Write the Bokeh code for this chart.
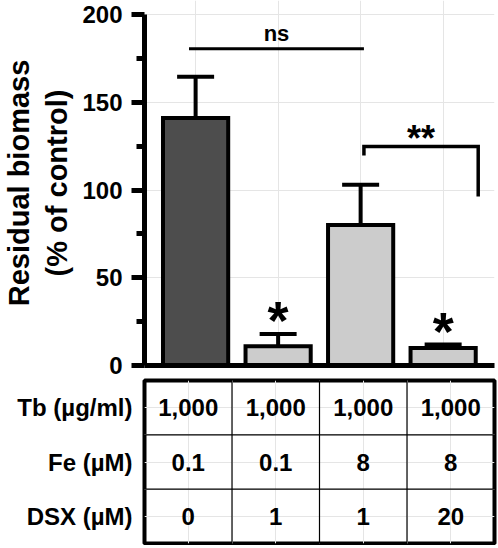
from bokeh.plotting import figure
from bokeh.models import Range1d, FixedTicker, LinearAxis, Whisker, TeeHead, ColumnDataSource
from bokeh.layouts import column
from bokeh.core.properties import value
from bokeh.embed import file_html
from bokeh.resources import INLINE

# ---------------- data ----------------
bar_positions = [0, 1, 2, 3]
biomass_pct = [141, 11, 80, 10]
biomass_upper = [164.5, 18, 103, 12]
bar_colors = ["#4d4d4d", "#cccccc", "#cccccc", "#cccccc"]
y_major_ticks = [0, 50, 100, 150, 200]
y_minor_ticks = [25, 75, 125, 175]
y_label = "Residual biomass\n(% of control)"

star_positions = [1, 3]
star_centers = [32.8, 26.2]
star_text = ["*", "*"]

ns_text = "ns"
ns_from_to = [-0.08, 2.04]
ns_level = 180.5
ns_text_level = 189.0

pair_text = "**"
pair_from_to = [2.04, 3.425]
pair_level = 124.8
pair_leg_ends = [119.7, 96.3]
pair_text_center = 134.0

row_names = ["Tb (µg/ml)", "Fe (µM)", "DSX (µM)"]
tb_row = ["1,000", "1,000", "1,000", "1,000"]
fe_row = ["0.1", "0.1", "8", "8"]
dsx_row = ["0", "1", "1", "20"]

# ---------------- style ----------------
FONT = "Liberation Sans"
PX_PER_UNIT = 1.755          # vertical pixels per % unit in the chart frame
STAR_RISE = 0.22             # asterisk centre above the text box middle, in em

# ---------------- chart ----------------
p = figure(width=498, height=378,
           x_range=Range1d(-0.6195, 3.6225), y_range=Range1d(0, 208.0),
           x_axis_location=None, y_axis_location=None,
           output_backend="svg", toolbar_location=None,
           min_border_left=140, min_border_right=4, min_border_top=0, min_border_bottom=13,
           outline_line_color=None, background_fill_color="white", border_fill_color="white")

yax = LinearAxis(bounds=(0, 200),
                 ticker=FixedTicker(ticks=y_major_ticks, minor_ticks=y_minor_ticks))
yax.axis_label = y_label
yax.axis_label_text_font = FONT
yax.axis_label_text_font_style = "bold"
yax.axis_label_text_font_size = "29px"
yax.axis_label_text_color = "black"
yax.axis_label_standoff = 6
yax.major_label_text_font = FONT
yax.major_label_text_font_style = "bold"
yax.major_label_text_font_size = "24px"
yax.major_label_text_color = "black"
yax.major_label_standoff = 9
yax.axis_line_width = 5
yax.axis_line_color = "black"
yax.major_tick_line_width = 5
yax.minor_tick_line_width = 5
yax.major_tick_line_color = "black"
yax.minor_tick_line_color = "black"
yax.major_tick_out = 13
yax.major_tick_in = 0
yax.minor_tick_out = 8
yax.minor_tick_in = 0
p.add_layout(yax, "left")

xax = LinearAxis(ticker=FixedTicker(ticks=[]), major_label_text_font_size="0px",
                 major_tick_out=0, major_tick_in=0, minor_tick_out=0, minor_tick_in=0,
                 axis_line_width=5, axis_line_color="black")
p.add_layout(xax, "below")

src = ColumnDataSource(dict(x=bar_positions, top=biomass_pct, upper=biomass_upper, color=bar_colors))

whisk = Whisker(source=src, base="x", lower="top", upper="upper",
                line_width=4, line_color="black",
                upper_head=TeeHead(size=37, line_width=4, line_color="black"),
                lower_head=None)
p.add_layout(whisk)

p.vbar(x="x", top="top", bottom=0, width=0.79, fill_color="color",
       line_color="black", line_width=4, line_join="miter", source=src)

# significance marks
STAR_SIZE = 54
star_anchor = [h - STAR_RISE * STAR_SIZE / PX_PER_UNIT for h in star_centers]
p.text(x=star_positions, y=star_anchor, text=star_text,
       text_font=value(FONT), text_font_style="bold", text_font_size=f"{STAR_SIZE}px",
       text_align="center", text_baseline="middle", text_color="black")

p.segment(x0=[ns_from_to[0]], y0=[ns_level], x1=[ns_from_to[1]], y1=[ns_level],
          line_width=3, line_color="black")
p.text(x=[sum(ns_from_to) / 2], y=[ns_text_level], text=[ns_text],
       text_font=value(FONT), text_font_style="bold", text_font_size="22px",
       text_align="center", text_baseline="middle", text_color="black")

p.line(x=[pair_from_to[0], pair_from_to[0], pair_from_to[1], pair_from_to[1]],
       y=[pair_leg_ends[0], pair_level, pair_level, pair_leg_ends[1]],
       line_width=3.5, line_color="black", line_join="miter")
PAIR_SIZE = 36
p.text(x=[sum(pair_from_to) / 2], y=[pair_text_center - STAR_RISE * PAIR_SIZE / PX_PER_UNIT],
       text=[pair_text],
       text_font=value(FONT), text_font_style="bold", text_font_size=f"{PAIR_SIZE}px",
       text_align="center", text_baseline="middle", text_color="black")

# ---------------- table ----------------
n_cols = len(tb_row)
n_rows = len(row_names)
t = figure(width=498, height=167,
           x_range=Range1d(0, n_cols), y_range=Range1d(0, 2 * n_rows),
           x_axis_location=None, y_axis_location=None,
           output_backend="svg", toolbar_location=None,
           min_border_left=137, min_border_right=4, min_border_top=2, min_border_bottom=2,
           outline_line_color="black", outline_line_width=4,
           background_fill_color="white", border_fill_color="white")

row_centers = [2 * n_rows - 1 - 2 * i for i in range(n_rows)]
tax = LinearAxis(ticker=FixedTicker(ticks=row_centers),
                 major_label_overrides=dict(zip(row_centers, row_names)),
                 axis_line_color=None, major_tick_out=0, major_tick_in=0,
                 minor_tick_out=0, minor_tick_in=0, major_label_standoff=12,
                 major_label_text_font=FONT, major_label_text_font_style="bold",
                 major_label_text_font_size="24px", major_label_text_color="black")
t.add_layout(tax, "left")

col_lines = list(range(1, n_cols))
row_lines = [2 * i for i in range(1, n_rows)]
t.segment(x0=col_lines, y0=0, x1=col_lines, y1=2 * n_rows, line_width=1.2, line_color="black")
t.segment(x0=0, y0=row_lines, x1=n_cols, y1=row_lines, line_width=1.2, line_color="black")

cx, cy, ct = [], [], []
for rc, row in zip(row_centers, [tb_row, fe_row, dsx_row]):
    for j, v in enumerate(row):
        cx.append(j + 0.5)
        cy.append(rc)
        ct.append(v)
t.text(x=cx, y=cy, text=ct, text_font=value(FONT), text_font_style="bold",
       text_font_size="24px", text_align="center", text_baseline="middle", text_color="black")

layout = column(p, t)
open("out.html", "w").write(file_html(layout, INLINE))
